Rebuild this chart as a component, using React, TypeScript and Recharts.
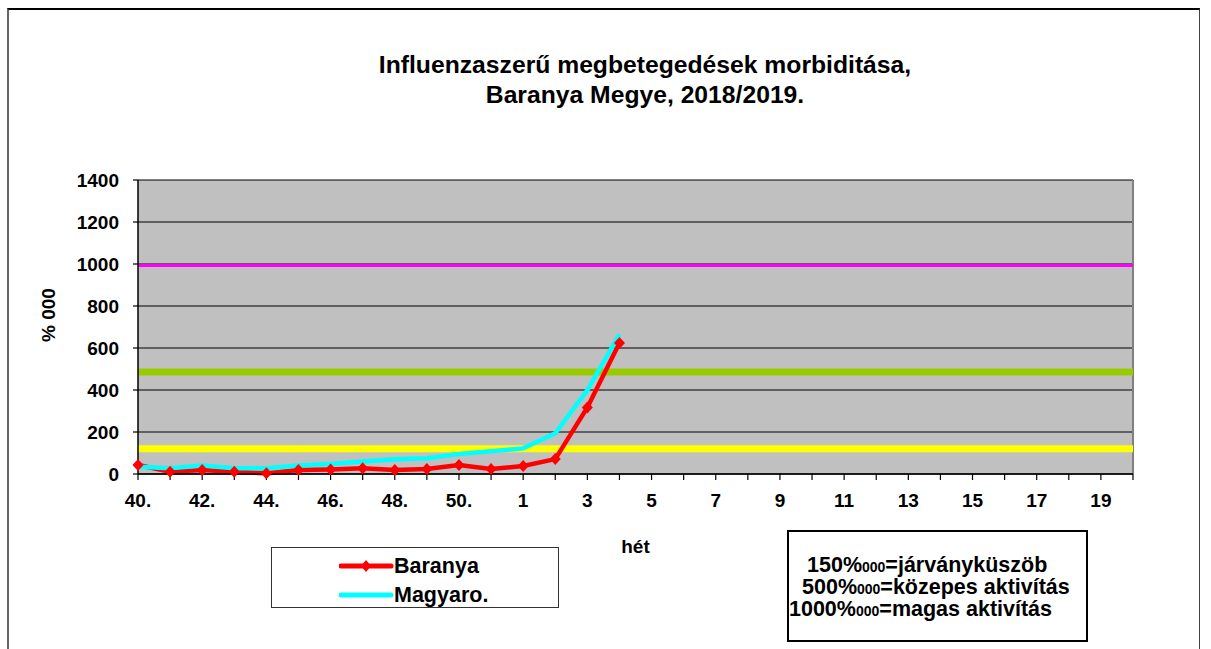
import React from 'react';
import { LineChart, Line, XAxis, YAxis, CartesianGrid, ReferenceLine, Legend } from 'recharts';

// hetek (40. héttől a 20. hétig)
const weeks = [
  '40.', '41.', '42.', '43.', '44.', '45.', '46.', '47.', '48.', '49.', '50.', '51.',
  '1', '2', '3', '4', '5', '6', '7', '8', '9', '10', '11', '12', '13', '14', '15', '16', '17', '18', '19', '20',
];

const baranya = [43, 11, 19, 11, 3, 19, 22, 27, 19, 24, 43, 24, 38, 71, 317, 624];
const magyaro = [35, 27, 40, 27, 27, 40, 48, 59, 70, 75, 95, 108, 122, 194, 400, 665];

const yTicks = [0, 200, 400, 600, 800, 1000, 1200, 1400];

const thresholds = [
  { value: 120, color: '#FFFF00', width: 7 },
  { value: 486, color: '#99CC00', width: 7 },
  { value: 993, color: '#FF00FF', width: 3 },
];

const noteLines = [
  { num: '150', text: '=járványküszöb', indent: 18 },
  { num: '500', text: '=közepes aktivítás', indent: 13 },
  { num: '1000', text: '=magas aktivítás', indent: 0 },
];

const data = weeks.map((w, i) => ({
  week: w,
  baranya: baranya[i] ?? null,
  magyaro: magyaro[i] ?? null,
}));

const FONT = '"Liberation Sans", Arial, sans-serif';

const Diamond = (props: any) => {
  const { cx, cy } = props;
  if (cx == null || cy == null) return null;
  return <polygon points={`${cx},${cy - 6} ${cx + 5.5},${cy} ${cx},${cy + 6} ${cx - 5.5},${cy}`} fill="#FF0000" />;
};

const XTick = (props: any) => {
  const { x, y, payload } = props;
  const idx = props.index ?? payload.index;
  if (idx % 2 !== 0) return null;
  return (
    <text x={x} y={y} dy={25} textAnchor="middle" fontFamily={FONT} fontWeight="bold" fontSize={19} fill="#000">
      {payload.value}
    </text>
  );
};

const YLabel = () => (
  <text
    x={48}
    y={315}
    transform="rotate(-90 48 315)"
    textAnchor="middle"
    dominantBaseline="central"
    fontFamily={FONT}
    fontWeight="bold"
    fontSize={19}
    fill="#000"
  >
    % 000
  </text>
);

const LegendBox = (props: any) => {
  const items = props.payload || [];
  return (
    <div
      style={{
        position: 'relative',
        width: 288,
        height: 61,
        boxSizing: 'border-box',
        border: '1.5px solid #333',
        background: '#fff',
        fontFamily: FONT,
        fontWeight: 'bold',
        fontSize: 21.5,
      }}
    >
      {items.map((it: any, i: number) => (
        <div key={it.value} style={{ position: 'absolute', left: 0, top: 5 + i * 29, height: 26, width: '100%' }}>
          <svg width={56} height={26} style={{ position: 'absolute', left: 67, top: 0 }}>
            <line x1={2} y1={13} x2={52} y2={13} stroke={it.color} strokeWidth={5} strokeLinecap="round" />
            {i === 0 && <polygon points="27,7 32,13 27,19 22,13" fill={it.color} />}
          </svg>
          <span style={{ position: 'absolute', left: 122, top: 0, lineHeight: '26px', color: '#000' }}>{it.value}</span>
        </div>
      ))}
    </div>
  );
};

export default function App() {
  return (
    <div style={{ position: 'absolute', left: 0, top: 0, width: 1211, height: 649, overflow: 'hidden', background: '#fff' }}>
      <div
        style={{
          position: 'absolute',
          left: 7,
          top: 8,
          width: 1193,
          height: 700,
          boxSizing: 'border-box',
          borderTop: '2px solid #000',
          borderLeft: '2px solid #666',
          borderRight: '1.5px solid #444',
        }}
      />
      <div
        style={{
          position: 'absolute',
          left: 345,
          top: 50,
          width: 600,
          textAlign: 'center',
          fontFamily: FONT,
          fontWeight: 'bold',
          fontSize: 24.7,
          lineHeight: '30px',
          color: '#000',
        }}
      >
        Influenzaszerű megbetegedések morbiditása,
        <br />
        Baranya Megye, 2018/2019.
      </div>
      <div style={{ position: 'absolute', left: 0, top: 0 }}>
        <LineChart width={1211} height={649} data={data} margin={{ top: 180, right: 78, bottom: 145, left: 78 }}>
          <CartesianGrid vertical={false} fill="#C0C0C0" stroke="#000" strokeWidth={1.2} fillOpacity={1} />
          <XAxis
            dataKey="week"
            scale="point"
            padding={{ left: 0, right: 0 }}
            interval={0}
            tick={<XTick />}
            tickSize={6}
            tickLine={{ stroke: '#000', strokeWidth: 1.2 }}
            axisLine={{ stroke: '#000', strokeWidth: 1.5 }}
            height={30}
            label={{ value: 'hét', position: 'bottom', offset: 36, fontFamily: FONT, fontWeight: 'bold', fontSize: 19, fill: '#000' }}
          />
          <YAxis
            domain={[0, 1400]}
            ticks={yTicks}
            interval={0}
            width={60}
            tickSize={5}
            tickMargin={14}
            tick={{ fontFamily: FONT, fontWeight: 'bold', fontSize: 19, fill: '#000' }}
            tickLine={{ stroke: '#000', strokeWidth: 1.2 }}
            axisLine={{ stroke: '#000', strokeWidth: 1.5 }}
            label={<YLabel />}
          />
          <ReferenceLine x="20" stroke="#808080" strokeWidth={2} />
          {thresholds.map((t) => (
            <ReferenceLine key={t.value} y={t.value} stroke={t.color} strokeWidth={t.width} />
          ))}
          <Line
            dataKey="baranya"
            name="Baranya"
            stroke="#FF0000"
            strokeWidth={4.5}
            dot={<Diamond />}
            activeDot={false}
            isAnimationActive={false}
          />
          <Line
            dataKey="magyaro"
            name="Magyaro."
            stroke="#00FFFF"
            strokeWidth={4.5}
            dot={false}
            activeDot={false}
            isAnimationActive={false}
          />
          <Legend
            layout="horizontal"
            verticalAlign="middle"
            align="center"
            content={<LegendBox />}
            wrapperStyle={{ position: 'absolute', left: 271, top: 547, width: 288, height: 61 }}
          />
        </LineChart>
      </div>
      <div
        style={{
          position: 'absolute',
          left: 787,
          top: 530,
          width: 301,
          height: 112,
          boxSizing: 'border-box',
          border: '2px solid #000',
          background: '#fff',
          fontFamily: FONT,
          fontWeight: 'bold',
          fontSize: 21.5,
          color: '#000',
          paddingTop: 22,
        }}
      >
        {noteLines.map((l) => (
          <div key={l.num} style={{ height: 22, lineHeight: '22px', paddingLeft: l.indent, whiteSpace: 'nowrap' }}>
            {l.num}%<span style={{ fontSize: 14, lineHeight: 0 }}>000</span>
            {l.text}
          </div>
        ))}
      </div>
    </div>
  );
}
